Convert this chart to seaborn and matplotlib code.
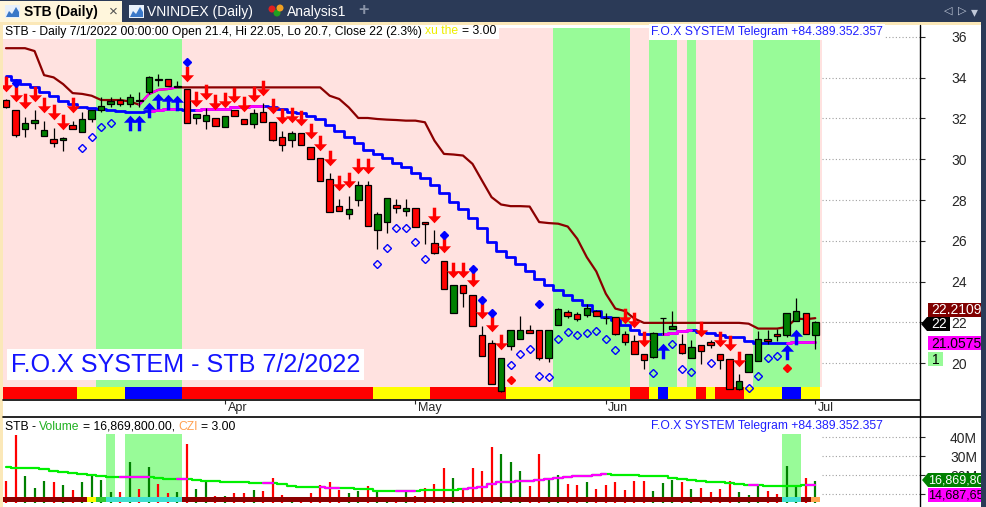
import itertools
import numpy as np
import matplotlib
matplotlib.use('Agg')
import matplotlib.pyplot as plt
import seaborn as sns
from matplotlib.patches import Rectangle, Polygon, Ellipse
from matplotlib.lines import Line2D
from matplotlib.path import Path
from matplotlib.transforms import offset_copy, ScaledTranslation

# ---- data (one value per trading day, 1 Mar .. 1 Jul 2022) ----
opens = [32.90, 32.42, 31.48, 31.77, 31.15, 30.99, 30.96, 31.68, 31.32, 31.97,
         32.41, 32.70, 32.90, 32.70, 32.88, 33.27, 33.92, 33.93, 33.55, 33.44,
         32.02, 31.87, 32.02, 31.58, 32.41, 31.97, 31.73, 32.33, 31.84, 31.07,
         30.96, 31.28, 30.62, 30.04, 29.04, 27.72, 27.33, 28.01, 28.74, 26.54,
         26.92, 27.76, 27.46, 27.62, 26.93, 25.90, 25.03, 22.48, 23.82, 23.36,
         21.40, 21.01, 18.63, 20.85, 21.21, 21.65, 21.65, 20.28, 21.89, 22.51,
         22.43, 22.38, 22.55, 22.23, 22.27, 21.42, 21.08, 20.44, 20.31, 22.21,
         21.70, 20.96, 20.28, 20.91, 21.05, 20.44, 20.23, 18.76, 19.58, 20.10,
         21.21, 21.42, 21.40, 22.06, 22.48, 21.40]
highs = [32.95, 32.42, 32.08, 32.42, 31.89, 31.53, 31.07, 31.89, 32.33, 32.42,
         33.03, 33.03, 33.06, 33.19, 33.27, 34.09, 34.17, 33.93, 33.85, 33.44,
         32.21, 32.51, 32.02, 32.12, 32.41, 31.97, 32.46, 32.75, 31.84, 31.37,
         31.40, 31.28, 30.62, 30.04, 29.31, 28.06, 28.22, 28.91, 28.91, 27.41,
         28.11, 28.06, 28.03, 27.62, 26.93, 26.51, 25.03, 23.82, 23.82, 23.36,
         21.81, 21.16, 20.28, 21.65, 22.30, 21.89, 21.65, 21.65, 22.73, 22.63,
         22.51, 22.89, 22.63, 22.48, 22.27, 21.58, 21.37, 20.44, 21.54, 22.23,
         22.56, 21.45, 21.13, 20.91, 21.13, 20.44, 20.23, 19.45, 20.44, 21.58,
         21.65, 21.70, 22.48, 23.20, 22.48, 22.05]
lows = [32.50, 31.07, 31.07, 31.46, 31.15, 30.58, 30.42, 31.48, 31.32, 31.81,
        32.30, 32.54, 32.62, 32.54, 32.54, 33.19, 33.60, 33.57, 33.52, 31.77,
        31.73, 31.48, 31.63, 31.58, 32.12, 31.73, 31.53, 31.84, 30.91, 30.42,
        30.62, 30.70, 30.01, 28.95, 27.41, 27.47, 27.08, 27.73, 26.72, 25.61,
        26.38, 27.37, 27.24, 26.69, 25.86, 25.37, 23.66, 22.48, 22.76, 21.83,
        20.38, 18.96, 18.60, 20.64, 21.21, 21.50, 20.15, 20.07, 21.89, 22.24,
        22.07, 22.27, 22.30, 21.94, 21.37, 20.88, 20.44, 19.74, 20.28, 21.37,
        21.70, 20.44, 20.28, 19.94, 20.75, 19.71, 18.76, 18.68, 19.58, 20.10,
        20.96, 21.08, 21.29, 22.06, 21.42, 20.70]
closes = [32.54, 31.18, 31.79, 31.92, 31.43, 30.80, 31.06, 31.48, 31.97, 32.42,
          32.62, 32.87, 32.70, 33.06, 32.85, 34.01, 33.90, 33.57, 33.56, 31.77,
          32.21, 32.18, 31.63, 32.12, 32.12, 31.73, 32.26, 31.84, 30.94, 30.70,
          31.28, 30.70, 30.01, 28.95, 27.41, 27.47, 27.57, 28.76, 26.72, 27.32,
          28.11, 27.62, 27.62, 26.69, 26.84, 25.40, 23.66, 23.82, 23.46, 21.83,
          20.38, 18.96, 20.28, 21.65, 21.65, 21.50, 20.28, 21.65, 22.68, 22.32,
          22.19, 22.73, 22.30, 22.21, 21.42, 21.05, 20.44, 20.15, 21.50, 22.23,
          21.81, 20.52, 20.80, 20.61, 20.91, 20.18, 18.76, 19.12, 20.44, 21.21,
          21.10, 21.32, 22.48, 22.55, 21.42, 22.00]

# trailing stop lines
upper_line = [35.44, 35.44, 35.44, 35.30, 34.12, 34.01, 33.68, 33.24, 33.20, 33.11,
              32.90, 32.90, 32.90, 32.83, 32.67, 33.19, 33.40, 33.44, 33.52, 33.52,
              33.52, 33.52, 33.52, 33.52, 33.52, 33.52, 33.52, 33.52, 33.52, 33.52,
              33.52, 33.52, 33.52, 33.52, 33.11, 32.95, 32.54, 32.02, 32.02, 31.97,
              31.94, 31.92, 31.89, 31.89, 31.81, 30.91, 30.26, 30.23, 30.18, 29.77,
              28.95, 28.14, 27.78, 27.70, 27.70, 27.68, 26.92, 26.87, 26.84, 26.70,
              26.10, 25.20, 24.50, 23.41, 22.68, 22.56, 22.19, 21.98, 21.98, 21.98,
              21.98, 21.98, 21.98, 21.98, 21.98, 21.98, 21.98, 21.98, 21.94, 21.70,
              21.70, 21.70, 21.78, 22.19, 22.16, 22.21]
lower_line = [34.06, 33.88, 33.68, 33.52, 33.27, 33.11, 32.83, 32.70, 32.54, 32.49,
              32.46, 32.42, 32.38, 32.33, 32.33, 32.38, 32.42, 32.46, 32.46, 32.41,
              32.41, 32.46, 32.46, 32.46, 32.54, 32.54, 32.59, 32.59, 32.54, 32.46,
              32.30, 32.25, 32.14, 31.97, 31.70, 31.40, 31.11, 30.78, 30.46, 30.26,
              30.05, 29.80, 29.61, 29.31, 29.07, 28.74, 28.34, 27.90, 27.57, 27.13,
              26.62, 25.94, 25.50, 25.21, 24.88, 24.52, 24.14, 23.82, 23.57, 23.33,
              23.08, 22.84, 22.56, 22.27, 22.14, 21.86, 21.62, 21.45, 21.45, 21.42,
              21.50, 21.57, 21.62, 21.54, 21.50, 21.37, 21.29, 21.29, 21.08, 21.00,
              21.00, 21.00, 21.00, 21.02, 21.04, 21.06]
upper_magenta = [(14, 18)]
lower_magenta = [(15, 18), (20, 27), (69, 72), (82, 85)]

# volume in millions + its moving average
volumes = [16.9, 41.5, 19.6, 13.0, 16.6, 16.4, 14.8, 12.1, 16.1, 20.5,
           17.3, 11.25, 11.1, 26.8, 12.7, 24.4, 15.3, 10.2, 11.1, 36.7,
           12.7, 16.1, 8.9, 8.9, 10.2, 10.2, 12.1, 11.6, 18.4, 9.5,
           7.2, 7.0, 10.7, 14.8, 16.1, 12.1, 10.2, 11.6, 14.3, 11.1,
           8.4, 6.8, 11.1, 8.9, 13.0, 15.5, 23.7, 18.4, 13.0, 23.7,
           22.3, 35.1, 30.9, 27.1, 22.3, 14.3, 30.9, 17.8, 20.2, 15.5,
           14.8, 16.4, 12.5, 14.8, 16.1, 12.1, 16.9, 16.9, 11.6, 15.9,
           17.5, 16.4, 12.7, 13.0, 11.25, 12.7, 16.9, 11.1, 9.5, 15.2,
           11.6, 9.8, 25.0, 13.7, 18.4, 16.87]
vol_ma = [24.1, 23.6, 23.55, 23.5, 23.2, 22.3, 21.4, 21.1, 20.6, 20.2,
          19.3, 18.8, 18.7, 18.7, 18.7, 18.7, 18.3, 17.8, 17.8, 17.8,
          17.2, 16.9, 16.6, 16.4, 16.2, 16.2, 16.0, 15.8, 15.6, 15.0,
          14.3, 13.9, 13.8, 13.4, 13.3, 13.2, 13.1, 12.7, 12.4, 11.6,
          11.5, 11.4, 11.4, 11.5, 11.9, 12.0, 12.1, 12.2, 12.5, 13.0,
          13.9, 15.0, 16.1, 16.3, 16.6, 16.9, 17.5, 17.8, 18.4, 19.0,
          19.3, 19.6, 20.0, 20.3, 20.2, 20.0, 19.8, 19.6, 19.6, 19.5,
          18.6, 17.8, 17.3, 16.8, 16.5, 16.3, 15.8, 15.2, 14.6, 14.5,
          14.2, 14.0, 14.1, 14.3, 14.5, 14.69]
vol_ma_magenta = [(12, 15), (18, 19), (27, 28), (33, 35), (41, 43), (48, 63), (78, 79), (84, 85)]

# signals
sell_arrows = list(range(0, 8)) + list(range(19, 39)) + list(range(45, 53)) + [65, 66, 67, 73, 75, 76, 77]
buy_arrows = [13, 14, 15, 16, 17, 18, 69, 82, 83]
support_idx = [8, 9, 10, 11, 39, 40, 41, 42, 43, 44, 53, 54, 55, 56, 57, 58, 59, 60,
               61, 62, 63, 64, 68, 70, 71, 72, 74, 78, 79, 80, 81]
support_val = [30.55, 31.07, 31.56, 31.76, 24.88, 25.65, 26.62, 26.62, 25.94, 25.11,
               19.90, 20.44, 20.72, 19.38, 19.33, 21.18, 21.54, 21.37,
               21.49, 21.58, 21.18, 20.64, 19.53, 20.96, 19.71, 19.58, 20.02, 18.81,
               19.38, 20.26, 20.36]
blue_dot_idx = [1, 19, 46, 49, 50, 51, 56]
blue_dot_val = [33.73, 34.74, 26.27, 24.60, 23.08, 22.46, 22.92]
red_dot_idx = [53, 82]
red_dot_val = [19.17, 19.79]

# background zones (first, last day) and colour strips (one letter per day)
green_zones = [(10, 18), (58, 65), (68, 70), (72, 72), (79, 85)]
vol_zones = [(11, 11), (13, 18), (82, 83)]
strip_main = 'R' * 8 + 'Y' * 5 + 'B' * 6 + 'R' * 20 + 'Y' * 6 + 'R' * 8 + 'Y' * 13 + \
             'RR' + 'Y' + 'B' + 'YYY' + 'R' + 'Y' + 'RRR' + 'YYYY' + 'BB' + 'YY'
strip_vol = 'M' * 9 + 'Y' + 'G' + 'C' * 8 + 'M' * 63 + 'CC' + 'M' + 'O'

month_ticks = [23, 43, 63, 85]
month_labels = ['Apr', 'May', 'Jun', 'Jul']
price_ticks = [20, 22, 24, 26, 28, 30, 32, 34, 36]
vol_ticks = [10, 20, 30, 40]
vol_tick_labels = ['', '20M', '30M', '40M']   # 10M sits under the value box

STRIP_COLORS = {'R': '#FF0000', 'Y': '#FFFF00', 'B': '#0000FF', 'M': '#8B0000',
                'G': '#32CD32', 'C': '#40E0D0', 'O': '#FFA54F'}
PINK = '#FFE2E0'
PALE_GREEN = '#98FB98'
NAVY = '#2B3A57'
CREAM = '#FBE8B8'

sns.set_style('white')
plt.rcParams['font.family'] = ['Liberation Sans', 'DejaVu Sans']

W, H = 986, 507
fig = plt.figure(figsize=(W / 100, H / 100), dpi=100, facecolor='white')


def fx(x):
    return x / W


def fy(y):
    return 1 - y / H


def px_rect(x0, y0, x1, y1, color, z=2):
    fig.patches.append(Rectangle((fx(x0), fy(y1)), fx(x1) - fx(x0), fy(y0) - fy(y1),
                                 transform=fig.transFigure, facecolor=color,
                                 edgecolor='none', lw=0, zorder=z))


def px_poly(points, color, z=2):
    fig.patches.append(Polygon([(fx(a), fy(b)) for a, b in points], closed=True,
                               transform=fig.transFigure, facecolor=color,
                               edgecolor='none', zorder=z))


def px_line(x0, y0, x1, y1, color='black', lw=1.0, z=4):
    fig.add_artist(Line2D([fx(x0), fx(x1)], [fy(y0), fy(y1)], color=color, lw=lw,
                          transform=fig.transFigure, zorder=z))


def px_text(x, y, s, **kw):
    kw.setdefault('va', 'center')
    kw.setdefault('ha', 'left')
    return fig.text(fx(x), fy(y), s, **kw)


def chain_text(x, y, parts, size, gap=3.3):
    """пишем подряд куски текста разного цвета, возвращаем правый край"""
    renderer = fig.canvas.get_renderer()
    for s, c in parts:
        t = px_text(x, y, s, color=c, fontsize=size, zorder=3)
        x += t.get_window_extent(renderer).width + gap
    return x - gap


def add_runs(a, codes, y0, h):
    """цветная полоса внизу панели, подряд идущие одинаковые дни склеиваем"""
    tr = a.get_xaxis_transform()
    i = 0
    for code, grp in itertools.groupby(codes):
        n = len(list(grp))
        a.add_patch(Rectangle((i - 0.5, y0), n, h, transform=tr, facecolor=STRIP_COLORS[code],
                              edgecolor='none', lw=0, zorder=3))
        i += n


x = np.arange(len(closes))
o, hi, lo, c = map(np.array, (opens, highs, lows, closes))

ax = fig.add_axes([fx(3), fy(400), fx(920) - fx(3), fy(28) - fy(400)])
ax2 = fig.add_axes([fx(3), fy(503), fx(920) - fx(3), fy(417) - fy(503)])
for a in (ax, ax2):
    a.set_xlim(-0.315, 96.0)
    for sp in a.spines.values():
        sp.set_visible(False)
ax.set_ylim(18.20, 36.43)
ax2.set_ylim(5.15, 50.8)

# ---- price pane ----
xt = ax.get_xaxis_transform()
ax.add_patch(Rectangle((-0.5, 0.035), 86.2, 0.965, transform=xt, facecolor=PINK, lw=0, zorder=0))
for s, e in green_zones:
    ax.add_patch(Rectangle((s - 0.5, 0.035), e - s + 1, 0.965, transform=xt,
                           facecolor=PALE_GREEN, lw=0, zorder=0))
add_runs(ax, strip_main, 0.003, 0.032)
ax.hlines(price_ticks, 85.7, 96.0, colors='#A0A0A0', linestyles=(0, (1, 2)), lw=0.8, zorder=0.5)

sns.lineplot(x=x, y=upper_line, ax=ax, color='#8B0000', lw=1.6, zorder=2)
for s, e in upper_magenta:
    sns.lineplot(x=x[s:e + 1], y=upper_line[s:e + 1], ax=ax, color='#FF00FF', lw=1.6, zorder=2)
sns.lineplot(x=x, y=lower_line, ax=ax, color='#0000FF', lw=2.0, drawstyle='steps-mid', zorder=2)
for s, e in lower_magenta:
    sns.lineplot(x=x[s:e + 1], y=lower_line[s:e + 1], ax=ax, color='#FF00FF', lw=2.0,
                 drawstyle='steps-mid', zorder=2)

# candles
up = c >= o
ax.vlines(x, lo, hi, color='black', lw=0.9, zorder=3)
ax.bar(x, np.maximum(np.abs(c - o), 0.03), bottom=np.minimum(o, c), width=0.68,
       color=np.where(up, '#008000', '#FF0000'), edgecolor='black', lw=0.9, zorder=4)

# arrows
arrow_v = [(-0.22, 1.0), (0.22, 1.0), (0.22, -0.1), (0.84, -0.1), (0.0, -1.0),
           (-0.84, -0.1), (-0.22, -0.1), (-0.22, 1.0)]
codes = [Path.MOVETO] + [Path.LINETO] * 6 + [Path.CLOSEPOLY]
down_arrow = Path(arrow_v, codes)
up_arrow = Path([(a, -b) for a, b in arrow_v], codes)
ax.plot(sell_arrows, hi[sell_arrows], ls='none', marker=down_arrow, ms=11.2, mew=0,
        color='#FF0000', transform=offset_copy(ax.transData, fig=fig, y=15.5, units='dots'), zorder=5)
ax.plot(buy_arrows, lo[buy_arrows], ls='none', marker=up_arrow, ms=11.2, mew=0,
        color='#0000FF', transform=offset_copy(ax.transData, fig=fig, y=-15.5, units='dots'), zorder=5)

ax.plot(support_idx, support_val, ls='none', marker='D', ms=3.6, mfc='none', mec='#0000FF', mew=1.0, zorder=5)
ax.plot(blue_dot_idx, blue_dot_val, ls='none', marker='D', ms=4.2, color='#0000FF', zorder=5)
ax.plot(red_dot_idx, red_dot_val, ls='none', marker='D', ms=4.2, color='#FF0000', zorder=5)

# axes ticks
ax.yaxis.tick_right()
ax.set_yticks(price_ticks)
ax.set_yticklabels([str(v) for v in price_ticks])
ax.tick_params(axis='y', direction='out', length=3.6, width=0.8, pad=30.2, labelsize=10,
               right=True, left=False, labelright=True, labelleft=False)
for lbl in ax.get_yticklabels():
    lbl.set_horizontalalignment('right')
ax.set_xticks(month_ticks)
ax.set_xticklabels(month_labels)
ax.tick_params(axis='x', direction='out', length=3, width=0.8, pad=-1.5, labelsize=9, bottom=True)
for lbl in ax.get_xticklabels():
    lbl.set_horizontalalignment('left')
    lbl.set_transform(lbl.get_transform() + ScaledTranslation(0.025, 0, fig.dpi_scale_trans))

# ---- volume pane ----
xt2 = ax2.get_xaxis_transform()
for s, e in vol_zones:
    ax2.add_patch(Rectangle((s - 0.5, 0.058), e - s + 1, 0.742, transform=xt2,
                            facecolor=PALE_GREEN, lw=0, zorder=0))
ax2.hlines(vol_ticks, 85.7, 96.0, colors='#A0A0A0', linestyles=(0, (1, 2)), lw=0.8, zorder=0.5)
ax2.vlines(x, 0, volumes, colors=np.where(up, '#008000', '#FF0000'), lw=1.6, zorder=2)
sns.lineplot(x=x, y=vol_ma, ax=ax2, color='#00F000', lw=1.6, drawstyle='steps-mid', zorder=2.5)
for s, e in vol_ma_magenta:
    sns.lineplot(x=x[s:e + 1], y=vol_ma[s:e + 1], ax=ax2, color='#FF00FF', lw=1.6,
                 drawstyle='steps-mid', zorder=2.5)
add_runs(ax2, strip_vol, 0.015, 0.052)

ax2.yaxis.tick_right()
ax2.set_yticks(vol_ticks)
ax2.set_yticklabels(vol_tick_labels)
ax2.tick_params(axis='y', direction='out', length=3.6, width=0.8, pad=37.4, labelsize=10,
                right=True, left=False, labelright=True, labelleft=False)
for lbl in ax2.get_yticklabels():
    lbl.set_horizontalalignment('right')
ax2.set_xticks([])

# ---- frame, tabs ----
px_rect(0, 0, W, 22, NAVY, z=1)
px_rect(0, 1, 122, 23, '#FFF6DC', z=1.5)
px_rect(0, 22, 981, 25, CREAM, z=1.5)
px_rect(0, 22, 3, H, CREAM, z=1.5)
px_rect(981, 22, W, H, NAVY, z=10)

px_rect(5, 5, 20, 18, '#E8F0FA', z=2)
px_poly([(6, 17), (9, 11), (12, 14), (16, 7), (19, 12), (19, 17)], '#3A78C8', z=2.2)
px_rect(129, 5, 144, 18, '#E8F0FA', z=2)
px_poly([(130, 17), (133, 11), (136, 14), (140, 7), (143, 12), (143, 17)], '#3A78C8', z=2.2)
for cx, cy, col in [(272, 9, '#E02020'), (277, 13, '#20A020'), (280, 8, '#F0A020')]:
    fig.patches.append(Ellipse((fx(cx), fy(cy)), 7 / W, 7 / H, transform=fig.transFigure,
                               facecolor=col, edgecolor='none', zorder=2))

px_text(24, 12, 'STB (Daily)', fontsize=10, fontweight='bold', color='black')
px_text(109, 11.5, '×', fontsize=11, color='#505050')
px_text(147, 12, 'VNINDEX (Daily)', fontsize=10, color='white')
px_text(287, 12, 'Analysis1', fontsize=10, color='white')
px_text(358, 11, '+', fontsize=13, fontweight='bold', color='#8A94A8')
px_text(944, 11, '◁', fontsize=8, color='#C0C8D8')
px_text(958, 11, '▷', fontsize=8, color='#C0C8D8')
px_text(971, 12, '▾', fontsize=10, color='#C0C8D8')

# separators
px_line(3, 400, 920, 400, lw=1.2)
px_line(3, 417, 981, 417, lw=1.2)
px_line(920, 25, 920, H, lw=1.0)

# ---- header texts ----
right = chain_text(5, 31.5, [('STB - Daily 7/1/2022 00:00:00 Open 21.4, Hi 22.05, Lo 20.7, Close 22 (2.3%)', 'black'),
                             ('xu the', '#EEEE00'), ('= 3.00', 'black')], 8.7)
px_rect(3, 25, right + 3, 38.5, 'white', z=2)
tele = 'F.O.X SYSTEM Telegram +84.389.352.357'
px_text(651, 32, tele, fontsize=8.75, color='#2020FF', zorder=3,
        bbox=dict(facecolor='white', edgecolor='none', pad=1.2))
chain_text(5, 426.5, [('STB -', 'black'), ('Volume', '#20B020'), ('= 16,869,800.00,', 'black'),
                      ('CZI', '#FFA050'), ('= 3.00', 'black')], 8.7)
px_text(651, 426.5, tele, fontsize=8.75, color='#2020FF', zorder=3)

px_text(11, 364.5, 'F.O.X SYSTEM - STB 7/2/2022', fontsize=18.1, color='#1414FF', zorder=3,
        bbox=dict(facecolor='white', edgecolor='none', pad=2.5))

# ---- value boxes on the right axis ----
px_rect(928, 303, 981, 317, '#800000')
px_text(931, 310.5, '22.2109', fontsize=10, color='white', zorder=3)
px_poly([(921, 324), (927, 317), (950, 317), (950, 331), (927, 331)], 'black')
px_text(931, 324.5, '22', fontsize=10, color='white', zorder=3)
px_rect(928, 336, 981, 350, '#FF00FF')
px_text(931, 343.5, '21.0575', fontsize=10, color='black', zorder=3)
px_rect(928, 352, 943, 366, PALE_GREEN)
px_text(932, 359.5, '1', fontsize=10, color='black', zorder=3)

# the last volume values are cut at the window edge in the original
px_poly([(922, 480), (928, 473), (986, 473), (986, 487), (928, 487)], '#008000')
px_text(928, 480.5, '16,869,80', fontsize=9.0, color='white', zorder=3)
px_rect(928, 488, 986, 502, '#FF00FF')
px_text(928, 495.5, '14,687,65', fontsize=9.0, color='black', zorder=3)

fig.savefig('out.png', dpi=100, facecolor='white')
